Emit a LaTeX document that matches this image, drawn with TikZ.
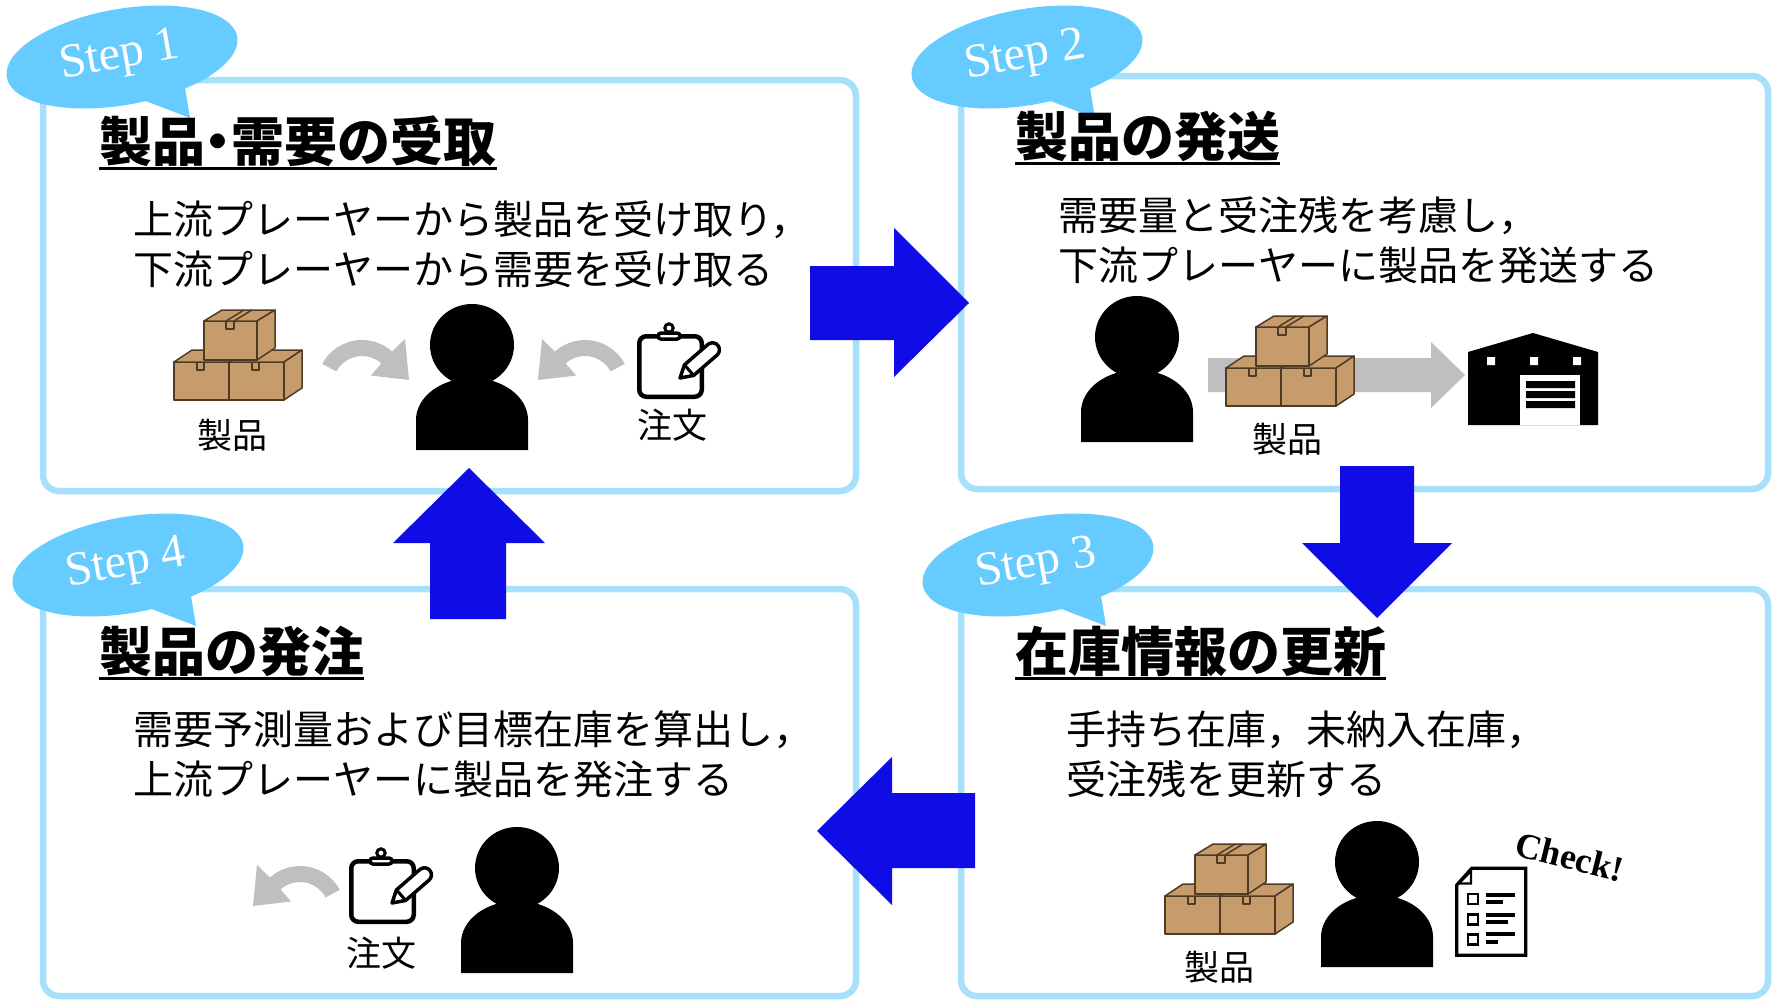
\documentclass[tikz,border=0pt]{standalone}
\usepackage{fontspec}
\newfontfamily\jp{Noto Sans CJK JP}
\newfontfamily\serif{Liberation Serif}

\definecolor{frameblue}{RGB}{166,224,250}
\definecolor{bubble}{RGB}{102,204,255}
\definecolor{flowblue}{RGB}{16,12,230}
\definecolor{arrowgrey}{RGB}{191,191,191}
\definecolor{carton}{RGB}{198,156,109}
\definecolor{cartonedge}{RGB}{80,58,36}

\tikzset{
  panel/.style={draw=frameblue, line width=6.5, rounded corners=16},
  flowarrow/.style={fill=flowblue},
  heading/.style={font=\jp\bfseries\fontsize{53}{60}\selectfont, anchor=base west, inner sep=0},
  underline/.style={line width=3},
  body/.style={font=\jp\fontsize{40}{48}\selectfont, anchor=base west, inner sep=0},
  iconlabel/.style={font=\jp\fontsize{35}{40}\selectfont, inner sep=0},
  steplabel/.style={font=\serif\fontsize{48}{52}\selectfont, text=white, inner sep=0},
  % silhouette of a person, origin at the bottom centre of the body
  person/.pic={
    \fill (0,-105) ellipse[x radius=42, y radius=41];
    \fill (-56,0) -- (-56,-30) arc[start angle=180, end angle=360, x radius=56, y radius=42] -- (56,0) -- cycle;
  },
  % three stacked cardboard boxes, origin at the top left
  cartons/.pic={
    \begin{scope}[fill=carton, draw=cartonedge, line width=1.5, line join=round]
      % lower left
      \filldraw (0,53) rectangle (55,91);
      \filldraw (0,53) -- (55,53) -- (73,41) -- (18,41) -- cycle;
      \draw (23,53) -- (23,61) -- (30,61) -- (30,53);
      % lower right
      \filldraw (55,53) rectangle (110,91);
      \filldraw (55,53) -- (110,53) -- (128,41) -- (73,41) -- cycle;
      \filldraw (110,53) -- (128,41) -- (128,79) -- (110,91) -- cycle;
      \draw (78,53) -- (78,61) -- (85,61) -- (85,53);
      % top
      \filldraw (30,12) rectangle (83,51);
      \filldraw (30,12) -- (83,12) -- (101,1) -- (48,1) -- cycle;
      \filldraw (83,12) -- (101,1) -- (101,39) -- (83,51) -- cycle;
      \draw (52,12) -- (70,1) (60,12) -- (78,1);
      \draw (52,12) -- (52,20) -- (60,20) -- (60,12);
    \end{scope}
  },
  % bent grey arrow, origin at the centre of its arc
  bentarrow/.pic={
    \fill[arrowgrey] (-152:45) arc[start angle=-152, end angle=-48, radius=45]
      -- (43,-46) -- (47,-5) -- (8.9,-9.5)
      -- (-48:29) arc[start angle=-48, end angle=-152, radius=29] -- cycle;
  },
  % clipboard with pencil, origin at the top left of the board
  clipboard/.pic={
    \draw[line width=4.5, rounded corners=7, fill=white] (2.25,2.25) rectangle (64.75,62.75);
    \draw[line width=3.5, fill=white, rounded corners=3] (21,5) -- (21,-1) -- (43,-1) -- (43,5) -- cycle;
    \draw[line width=3, fill=white] (32,-6) circle[radius=4.2];
    \begin{scope}[shift={(43,44)}, rotate=41]
      \draw[line width=3.5, fill=white, line join=round]
        (0,0) -- (12,-7) -- (43,-7) arc[start angle=-90, end angle=90, radius=7] -- (12,7) -- cycle;
      \draw[line width=3] (12,-7) -- (12,7);
    \end{scope}
  },
}

% speech bubble carrying a step number; #1 name, #2 #3 centre, #4 number
\newcommand\stepbubble[4]{%
  \begin{scope}[shift={(#2,#3)}]
    \fill[bubble] (21,43) -- (68,61) -- (63,31) -- cycle;
    \fill[bubble, rotate=10] (0,0) ellipse[x radius=117, y radius=48];
    \node[steplabel, rotate=10] (#1) at (-2,0) {Step #4};
  \end{scope}}

\begin{document}
\begin{tikzpicture}[x=1pt, y=-1pt]
\useasboundingbox (0,0) rectangle (1775,1001);
\fill[white] (0,0) rectangle (1775,1001);

% the four panels
\draw[panel] (43,80) rectangle (856,491);
\draw[panel] (961,76) rectangle (1768,489);
\draw[panel] (961,589) rectangle (1768,996);
\draw[panel] (43,589) rectangle (856,996);

% block arrows of the cycle
\fill[flowarrow] (810,266) -- (894,266) -- (894,228) -- (969,303) -- (894,377) -- (894,340) -- (810,340) -- cycle;
\fill[flowarrow] (1340,466) -- (1414,466) -- (1414,543) -- (1452,543) -- (1377,618) -- (1302,543) -- (1340,543) -- cycle;
\fill[flowarrow] (975,793) -- (892,793) -- (892,757) -- (817,831) -- (892,905) -- (892,868) -- (975,868) -- cycle;
\fill[flowarrow] (430,619) -- (430,543) -- (393,543) -- (469,468) -- (545,543) -- (506,543) -- (506,619) -- cycle;

% step bubbles
\stepbubble{s1}{122}{57}{1}
\stepbubble{s2}{1027}{57}{2}
\stepbubble{s3}{1038}{565}{3}
\stepbubble{s4}{128}{565}{4}

% headings
\node[heading] (h1) at (99,161) {製品\hspace{-0.25em}・\hspace{-0.25em}需要の受取};
\node[heading] (h2) at (1015,156) {製品の発送};
\node[heading] (h3) at (1015,671) {在庫情報の更新};
\node[heading] (h4) at (99,671) {製品の発注};
\foreach \h in {h1,h2,h3,h4}
  \draw[underline] ([yshift=-7pt]\h.base west) -- ([yshift=-7pt]\h.base east);

% descriptions
\node[body] (t1a) at (133,234) {上流プレーヤーから製品を受け取り，};
\node[body] (t1b) at (133,284) {下流プレーヤーから需要を受け取る};
\node[body] (t2a) at (1058,230) {需要量と受注残を考慮し，};
\node[body] (t2b) at (1058,280) {下流プレーヤーに製品を発送する};
\node[body] (t3a) at (1066,744) {手持ち在庫，未納入在庫，};
\node[body] (t3b) at (1066,794) {受注残を更新する};
\node[body] (t4a) at (133,744) {需要予測量および目標在庫を算出し，};
\node[body] (t4b) at (133,794) {上流プレーヤーに製品を発注する};

% step 1: receiving goods and demand
\pic at (174,309) {cartons};
\node[iconlabel] (g1) at (232,435) {製品};
\pic at (362,385) {bentarrow};
\pic at (472,450) {person};
\pic[xscale=-1] at (585,385) {bentarrow};
\pic at (637,334) {clipboard};
\node[iconlabel] (o1) at (672,425) {注文};

% step 2: shipping
\pic at (1137,442) {person};
\fill[arrowgrey] (1208,358) -- (1431,358) -- (1431,342) -- (1465,375) -- (1431,408) -- (1431,392) -- (1208,392) -- cycle;
\pic at (1226,315) {cartons};
\node[iconlabel] (g2) at (1287,439) {製品};
% warehouse
\fill (1468,352) -- (1533,333) -- (1598,352) -- (1598,425) -- (1468,425) -- cycle;
\fill[white] (1487,357) rectangle (1495,365) (1530,357) rectangle (1538,365) (1573,357) rectangle (1581,365);
\fill[white] (1520,375) rectangle (1580,425);
\fill (1526,381) rectangle (1575,388) (1526,391) rectangle (1575,398) (1526,401) rectangle (1575,408);

% step 3: updating inventory
\pic at (1165,843) {cartons};
\node[iconlabel] (g3) at (1219,967) {製品};
\pic at (1377,967) {person};
% checklist sheet
\draw[line width=3.2, fill=white, line join=miter] (1471.7,868.3) -- (1525.7,868.3) -- (1525.7,955.3) -- (1456.7,955.3) -- (1456.7,885) -- cycle;
\draw[line width=2.2, fill=white, line join=miter] (1459,883.5) -- (1471,883.5) -- (1471,871) -- cycle;
\begin{scope}[line width=2.6]
  \draw (1468,894) rectangle (1478,904);
  \draw (1468,914.5) rectangle (1478,924.5);
  \draw (1468,934.5) rectangle (1478,944.5);
\end{scope}
\begin{scope}[line width=4]
  \draw (1486,894.5) -- (1515,894.5) (1486,902) -- (1503,902);
  \draw (1486,915) -- (1515,915) (1486,922) -- (1508,922);
  \draw (1486,934) -- (1515,934) (1486,942) -- (1498,942);
\end{scope}
\node[font=\serif\bfseries\fontsize{36}{40}\selectfont, rotate=-14, inner sep=0] (check) at (1570,857) {Check!};

% step 4: ordering
\pic[xscale=-1] at (300,911) {bentarrow};
\pic at (349,859) {clipboard};
\node[iconlabel] (o4) at (381,953) {注文};
\pic at (517,973) {person};
\end{tikzpicture}
\end{document}
